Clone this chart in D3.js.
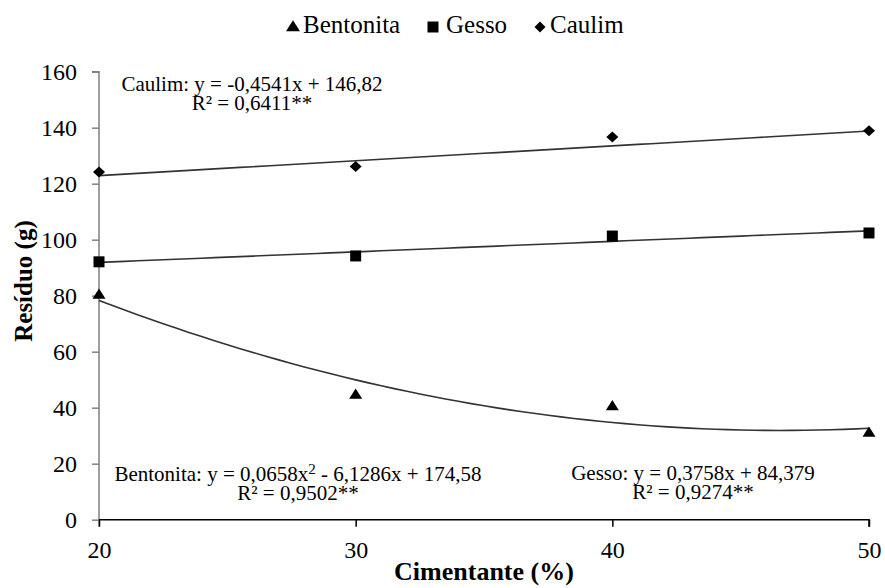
<!DOCTYPE html>
<html>
<head>
<meta charset="utf-8">
<script src="https://cdn.jsdelivr.net/npm/d3@7"></script>
<style>
  html, body { margin: 0; padding: 0; background: #fff; }
  svg { display: block; font-family: 'Liberation Serif', 'Times New Roman', serif; }
  svg text { font-family: 'Liberation Serif', 'Times New Roman', serif !important; fill: #000; }
</style>
</head>
<body>
<svg id="chart" width="885" height="588"></svg>
<script>
// ---- data ----
const cimentante = [20, 30, 40, 50];
const bentonita = [80.3, 44.6, 40.5, 31.0];
const gesso = [92.1, 94.2, 101.3, 102.4];
const caulim = [124.2, 126.1, 136.7, 138.9];
const yTicks = [0, 20, 40, 60, 80, 100, 120, 140, 160];
const xTicks = [20, 30, 40, 50];
// trend-line coefficients (highest power first)
const bentonitaFit = [0.0658, -6.1286, 174.58];
const gessoFit = [0.3758, 84.379];
const caulimFit = [0.53, 112.3]; // as drawn in the figure
const seriesNames = ["Bentonita", "Gesso", "Caulim"];

const FONT = "'Liberation Serif', 'Times New Roman', serif";
const svg = d3.select("#chart");
const x = d3.scaleLinear().domain([20, 50]).range([99, 869]);
const y = d3.scaleLinear().domain([0, 160]).range([519.7, 71.7]);

const poly = (c, v) => c.reduce((acc, k) => acc * v + k, 0);

// symbols
const triPath = (s) => { const w = s, h = s * 0.78; return `M0,${-h*0.62}L${w/2},${h*0.38}L${-w/2},${h*0.38}Z`; };
const sqPath = (s) => `M${-s/2},${-s/2}H${s/2}V${s/2}H${-s/2}Z`;
const diaPath = (w, h) => `M0,${-h/2}L${w/2},0L0,${h/2}L${-w/2},0Z`;

// ---- axes ----
const yAxis = d3.axisLeft(y).tickValues(yTicks).tickSize(7).tickPadding(15).tickFormat(d3.format("d"));
const gy = svg.append("g").attr("transform", `translate(${x(20)},0)`).call(yAxis);
gy.attr("font-family", FONT).attr("font-size", 24);
gy.select(".domain").attr("stroke", "#808080").attr("stroke-width", 1.5).attr("d", `M-7,${y(160)}H0V${y(0)+7}`);
gy.selectAll(".tick line").attr("stroke", "#808080").attr("stroke-width", 1.5);
gy.selectAll(".tick text").attr("font-family", FONT).attr("font-size", 24).attr("fill", "#000").attr("dy", "0.34em");

const xAxis = d3.axisBottom(x).tickValues(xTicks).tickSize(7).tickPadding(14).tickFormat(d3.format("d"));
const gx = svg.append("g").attr("transform", `translate(0,${y(0)})`).call(xAxis);
gx.attr("font-family", FONT).attr("font-size", 24);
gx.select(".domain").attr("stroke", "#000").attr("stroke-width", 1.5).attr("d", `M${x(20)},0H${x(50)}V7`);
gx.selectAll(".tick line").attr("stroke", "#000").attr("stroke-width", 1.5);
gx.selectAll(".tick text").attr("font-family", FONT).attr("font-size", 24).attr("fill", "#000").attr("dy", "0.71em");

// axis titles
svg.append("text").attr("x", 484).attr("y", 580).attr("text-anchor", "middle")
  .attr("font-family", FONT).attr("font-size", 26).attr("font-weight", "bold").text("Cimentante (%)");
svg.append("text").attr("transform", "translate(32,281) rotate(-90)").attr("text-anchor", "middle")
  .attr("font-family", FONT).attr("font-size", 25).attr("font-weight", "bold").text("Resíduo (g)");

// ---- trend lines ----
const xs = d3.range(20, 50.01, 0.5);
const line = d3.line().x(d => x(d[0])).y(d => y(d[1]));
[bentonitaFit, gessoFit, caulimFit].forEach(c => {
  svg.append("path").attr("d", line(xs.map(v => [v, poly(c, v)])))
    .attr("fill", "none").attr("stroke", "#333").attr("stroke-width", 1.6);
});

// ---- markers ----
const g = svg.append("g");
cimentante.forEach((c, i) => {
  g.append("path").attr("d", triPath(13)).attr("transform", `translate(${x(c)},${y(bentonita[i])})`);
  g.append("path").attr("d", sqPath(11)).attr("transform", `translate(${x(c)},${y(gesso[i])})`);
  g.append("path").attr("d", diaPath(12, 11)).attr("transform", `translate(${x(c)},${y(caulim[i])})`);
});

// ---- equations (two lines in one text element) ----
function eq(cx, by, line1, line2) {
  const t = svg.append("text").attr("text-anchor", "middle")
    .attr("font-family", FONT).attr("font-size", 21);
  const l1 = t.append("tspan").attr("x", cx).attr("y", by);
  line1(l1);
  t.append("tspan").attr("x", cx).attr("y", by + 19).text(line2);
}
eq(252, 91, t => t.text("Caulim: y = -0,4541x + 146,82"), "R² = 0,6411**");
eq(298, 481, t => {
  t.append("tspan").text("Bentonita: y = 0,0658x");
  t.append("tspan").attr("dy", -7).attr("font-size", 15).text("2");
  t.append("tspan").attr("dy", 7).text(" - 6,1286x + 174,58");
}, "R² = 0,9502**");
eq(693, 480, t => t.text("Gesso: y = 0,3758x + 84,379"), "R² = 0,9274**");

// ---- legend ----
const legend = svg.append("g");
const legendItems = [
  { name: seriesNames[0], mx: 293, tx: 303, d: triPath(14) },
  { name: seriesNames[1], mx: 433, tx: 446, d: sqPath(11) },
  { name: seriesNames[2], mx: 540, tx: 550, d: diaPath(11, 11) }
];
legendItems.forEach(it => {
  legend.append("path").attr("d", it.d).attr("transform", `translate(${it.mx},27)`);
  legend.append("text").attr("x", it.tx).attr("y", 33).attr("font-family", FONT).attr("font-size", 25).text(it.name);
});
</script>
</body>
</html>
